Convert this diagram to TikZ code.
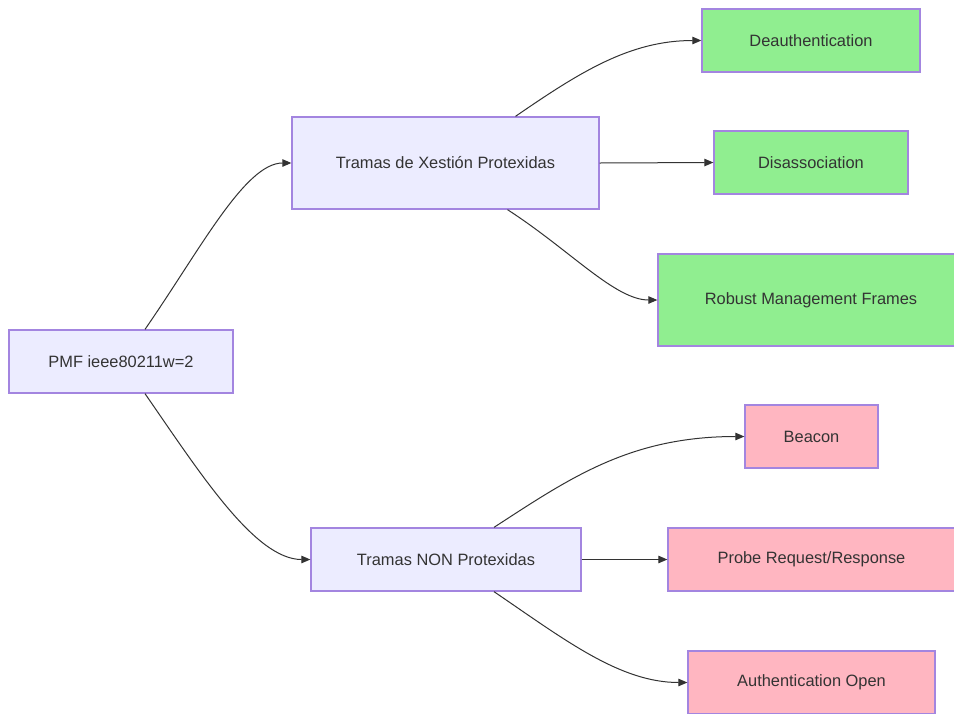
\documentclass[tikz,border=0pt]{standalone}
\usepackage{fontspec}
\setmainfont{Liberation Sans}
\usetikzlibrary{arrows.meta}
\definecolor{boxfill}{HTML}{ECECFF}
\definecolor{boxline}{HTML}{9370DB}
\definecolor{okfill}{HTML}{90EE90}
\definecolor{badfill}{HTML}{FFB6C1}
\definecolor{ink}{HTML}{333333}
\begin{document}
\begin{tikzpicture}[x=1pt,y=-1pt,
  box/.style={draw=boxline!85,line width=1.3pt,fill=boxfill,text=ink,inner sep=0pt,
    font=\fontsize{16.4}{19}\selectfont},
  safe/.style={box,fill=okfill},
  open/.style={box,fill=badfill},
  link/.style={draw=ink,line width=1pt,-{Triangle[length=9pt,width=7.5pt]}}]
\useasboundingbox[fill=white] (0,0) rectangle (954,713);
% root
\node[box,minimum width=224pt,minimum height=63pt] (pmf) at (121,361.5) {PMF ieee80211w=2};
% two groups of frames
\node[box,minimum width=307pt,minimum height=92pt] (prot) at (445.5,163) {Tramas de Xestión Protexidas};
\node[box,minimum width=270pt,minimum height=63pt] (nonp) at (446,559.5) {Tramas NON Protexidas};
% protected frames
\node[safe,minimum width=218pt,minimum height=63pt] (deauth) at (811,40.5) {Deauthentication};
\node[safe,minimum width=194pt,minimum height=63pt] (disas) at (811,162.5) {Disassociation};
\node[safe,minimum width=306pt,minimum height=92pt] (robust) at (811,300) {Robust Management Frames};
% unprotected frames
\node[open,minimum width=133pt,minimum height=63pt] (beacon) at (811.5,436.5) {Beacon};
\node[open,minimum width=287pt,minimum height=63pt] (probe) at (811.5,559.5) {Probe Request/Response};
\node[open,minimum width=247pt,minimum height=63pt] (auth) at (811.5,682.5) {Authentication Open};
% connectors
\draw[link] ([xshift=24pt]pmf.north) .. controls (200,250) and (245,163) .. (prot.west);
\draw[link] ([xshift=24pt]pmf.south) .. controls (200,473) and (255,559.5) .. (nonp.west);
\draw[link] ([xshift=70pt]prot.north) .. controls (580,72) and (630,40.5) .. (deauth.west);
\draw[link] (prot.east) -- (disas.west);
\draw[link] ([xshift=62pt]prot.south) .. controls (570,250) and (615,300) .. (robust.west);
\draw[link] ([xshift=48pt]nonp.north) .. controls (570,478) and (630,436.5) .. (beacon.west);
\draw[link] (nonp.east) -- (probe.west);
\draw[link] ([xshift=48pt]nonp.south) .. controls (565,640) and (620,682.5) .. (auth.west);
\end{tikzpicture}
\end{document}
